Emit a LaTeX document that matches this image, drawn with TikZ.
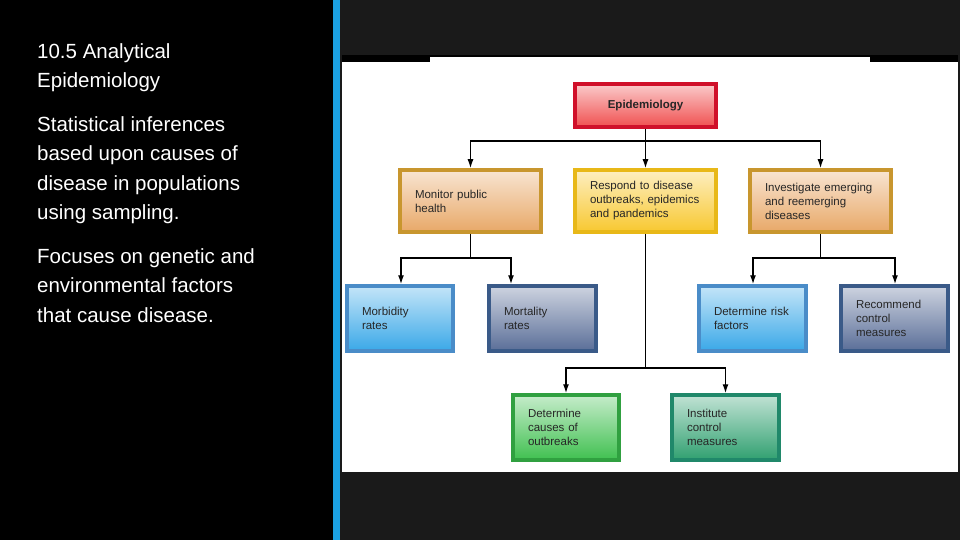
\documentclass[tikz,border=0pt]{standalone}
\usepackage{fontspec}
\setmainfont{Liberation Sans}
\usetikzlibrary{arrows.meta}
\definecolor{bluebar}{HTML}{1BA1E2}
\definecolor{panel}{HTML}{1A1A1A}
\definecolor{redL}{HTML}{F05050}\definecolor{redD}{HTML}{D0102A}
\definecolor{tanL}{HTML}{E8A868}\definecolor{tanD}{HTML}{C8962E}
\definecolor{yelL}{HTML}{F8C830}\definecolor{yelD}{HTML}{E8B818}
\definecolor{bluL}{HTML}{3AA8E8}\definecolor{bluD}{HTML}{4A8CC8}
\definecolor{slaL}{HTML}{5A6E98}\definecolor{slaD}{HTML}{3A5A88}
\definecolor{grnL}{HTML}{40C050}\definecolor{grnD}{HTML}{30A040}
\definecolor{tealL}{HTML}{30A070}\definecolor{tealD}{HTML}{20886A}

\tikzset{
  bevel/.style n args={3}{draw=#2, line width=3.5pt, top color=#1!30!white, bottom color=#1,
    minimum width=#3, minimum height=62pt, inner sep=2pt, outer sep=1.75pt,
    text width=#3-30pt, align=left, font=\fontsize{11.5}{14}\selectfont, text=black!85},
  arr/.style={-{Latex[length=9pt,width=6pt]}, line width=1.4pt},
  lin/.style={line width=1.4pt}
}

\begin{document}
\begin{tikzpicture}[x=1pt, y=-1pt]
  \useasboundingbox (0,0) rectangle (960,540);
  \fill[black] (0,0) rectangle (333,540);
  \fill[bluebar] (333,0) rectangle (340,540);
  \fill[panel] (340,0) rectangle (960,540);
  \fill[black] (342,55) rectangle (958,62);
  \fill[white] (430,57) rectangle (870,62);
  \fill[white] (342,62) rectangle (958,472);

  \node[anchor=north west, text=white, inner sep=0pt, align=left,
        font=\fontsize{20.5}{29.5}\selectfont] (txt) at (37,43)
    {10.5 Analytical\\Epidemiology\\[14pt]
     Statistical inferences\\based upon causes of\\disease in populations\\using sampling.\\[14pt]
     Focuses on genetic and\\environmental factors\\that cause disease.};

  \node[bevel={redL}{redD}{141pt}, minimum height=43pt, align=center,
        font=\bfseries\fontsize{11.5}{14}\selectfont] (epi) at (645.5,105.5) {Epidemiology};
  \node[bevel={tanL}{tanD}{141pt}] (mon) at (470.5,201) {Monitor public\\health};
  \node[bevel={yelL}{yelD}{141pt}] (resp) at (645.5,201) {Respond to disease\\outbreaks, epidemics\\and pandemics};
  \node[bevel={tanL}{tanD}{141pt}] (inv) at (820.5,201) {Investigate emerging\\and reemerging\\diseases};

  \node[bevel={bluL}{bluD}{106pt}, minimum height=65pt] (morb) at (400,318.5) {Morbidity\\rates};
  \node[bevel={slaL}{slaD}{107pt}, minimum height=65pt] (mort) at (542.5,318.5) {Mortality\\rates};
  \node[bevel={bluL}{bluD}{107pt}, minimum height=65pt] (risk) at (752.5,318.5) {Determine risk\\factors};
  \node[bevel={slaL}{slaD}{107pt}, minimum height=65pt] (rec) at (894.5,318.5) {Recommend\\control\\measures};

  \node[bevel={grnL}{grnD}{106pt}, minimum height=65pt] (caus) at (566,427.5) {Determine\\causes of\\outbreaks};
  \node[bevel={tealL}{tealD}{107pt}, minimum height=65pt] (inst) at (725.5,427.5) {Institute\\control\\measures};

  % connectors
  \coordinate (j0) at (645.5,141);
  \draw[lin] (epi) -- (j0);
  \draw[arr] (j0) -| (mon);
  \draw[arr] (j0) -- (resp);
  \draw[arr] (j0) -| (inv);

  \coordinate (j1) at (470.5,258);
  \draw[lin] (mon) -- (j1);
  \draw[arr] (j1) -| (morb.north -| 401,0);
  \draw[arr] (j1) -| (mort.north -| 511,0);

  \coordinate (j2) at (820.5,258);
  \draw[lin] (inv) -- (j2);
  \draw[arr] (j2) -| (risk.north -| 753,0);
  \draw[arr] (j2) -| (rec.north -| 895,0);

  \coordinate (j3) at (645.5,368);
  \draw[lin] (resp) -- (j3);
  \draw[arr] (j3) -| (caus);
  \draw[arr] (j3) -| (inst);
\end{tikzpicture}
\end{document}
